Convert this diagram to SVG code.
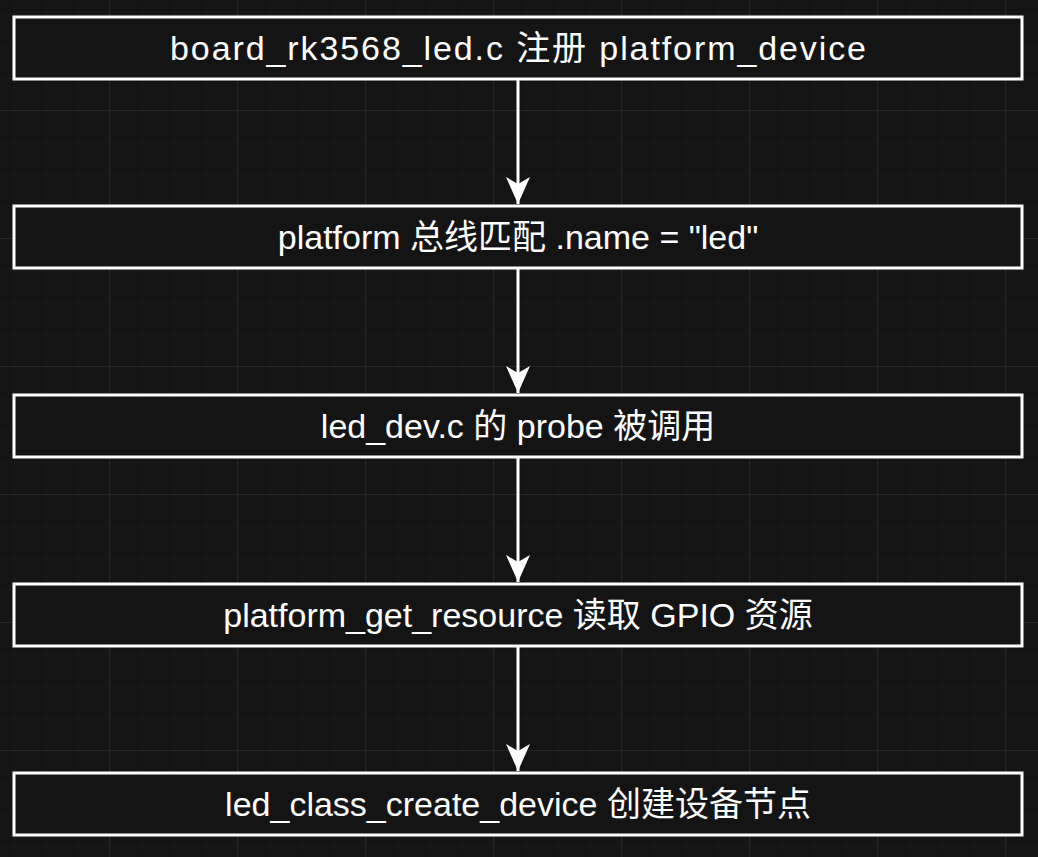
<svg xmlns="http://www.w3.org/2000/svg" width="1038" height="857" viewBox="0 0 1038 857">
<defs>
<pattern id="g" x="14" y="14" width="32" height="32" patternUnits="userSpaceOnUse"><path d="M0 0H32M0 0V32" stroke="#1e1e1e" stroke-width="1" fill="none"/></pattern>
<pattern id="G" x="109" y="110" width="128" height="128" patternUnits="userSpaceOnUse"><path d="M0 0H128M0 0V128" stroke="#262626" stroke-width="2" fill="none"/></pattern>
<marker id="a" viewBox="0 0 28 26" refX="27" refY="13" markerWidth="28" markerHeight="26" markerUnits="userSpaceOnUse" orient="auto"><path d="M0 1L27 13L0 25L7 13Z" fill="#fff"/></marker>
</defs>
<style>
.n rect{fill:#141414;stroke:#fff;stroke-width:3}
.n text{fill:#fff;font-family:"Liberation Sans","Noto Sans CJK SC",sans-serif;font-size:34px;text-anchor:middle;dominant-baseline:central}
.c path{stroke:#fff;stroke-width:3;fill:none}
</style>
<rect width="1038" height="857" fill="#141414"/>
<rect width="1038" height="857" fill="url(#g)"/>
<rect width="1038" height="857" fill="url(#G)"/>
<g class="c">
<path d="M518 79V204" marker-end="url(#a)"/>
<path d="M518 268V393" marker-end="url(#a)"/>
<path d="M518 457V582" marker-end="url(#a)"/>
<path d="M518 646V771" marker-end="url(#a)"/>
</g>
<g id="n1" class="n"><rect x="14" y="17" width="1008" height="62"/><text x="518" y="48" textLength="696">board_rk3568_led.c 注册 platform_device</text></g>
<g id="n2" class="n"><rect x="14" y="206" width="1008" height="62"/><text x="518" y="237">platform 总线匹配 .name = "led"</text></g>
<g id="n3" class="n"><rect x="14" y="395" width="1008" height="62"/><text x="518" y="426">led_dev.c 的 probe 被调用</text></g>
<g id="n4" class="n"><rect x="14" y="584" width="1008" height="62"/><text x="518" y="615">platform_get_resource 读取 GPIO 资源</text></g>
<g id="n5" class="n"><rect x="14" y="773" width="1008" height="62"/><text x="518" y="804">led_class_create_device 创建设备节点</text></g>
</svg>
